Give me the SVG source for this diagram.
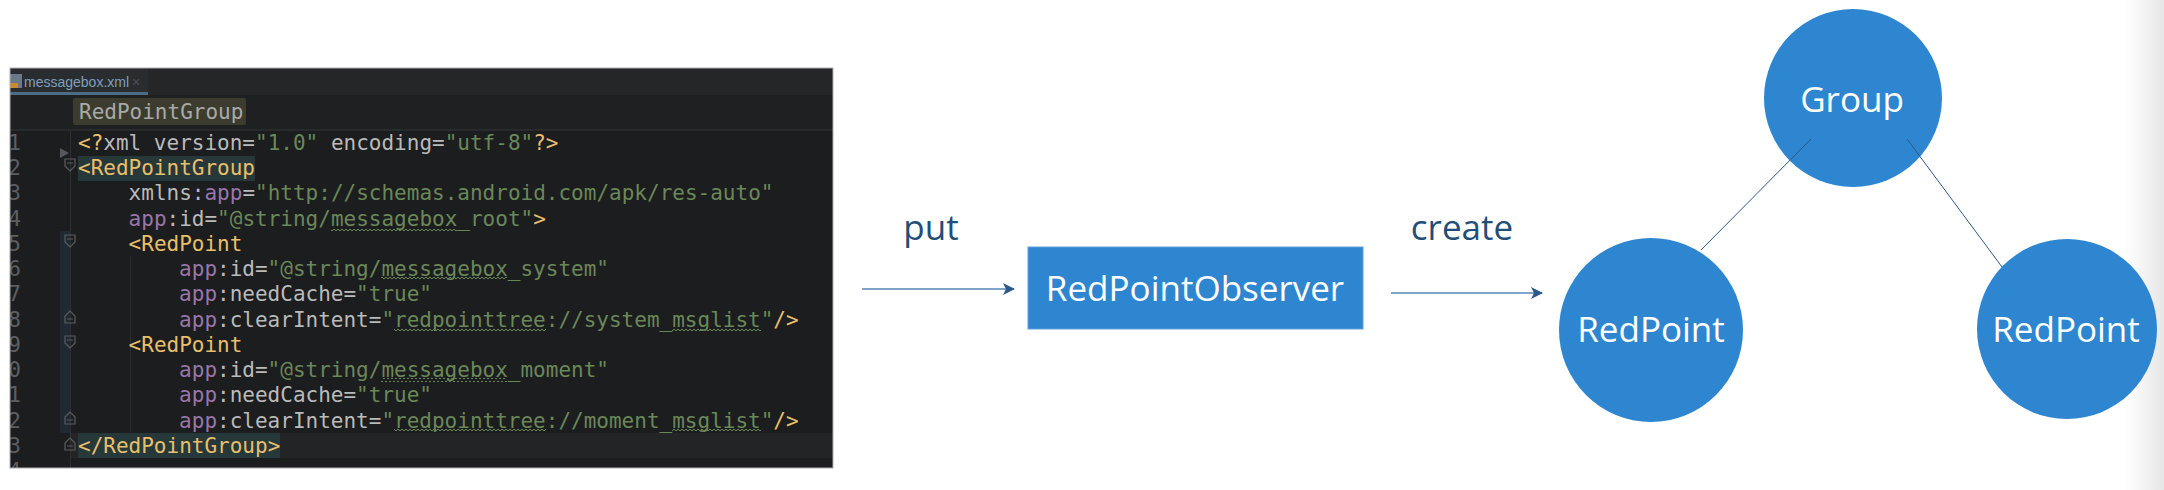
<svg xmlns="http://www.w3.org/2000/svg" width="2164" height="490" viewBox="0 0 2164 490">
<style>
.code{font-family:"DejaVu Sans Mono","Liberation Mono",monospace;font-size:21px;fill:#bababa}
.ln{font-family:"DejaVu Sans Mono","Liberation Mono",monospace;font-size:21px;fill:#5c5f62;text-anchor:end}
.tg{fill:#e8bf6a}.ns{fill:#9876aa}.st{fill:#6a8759}
.lbl{font-family:"Open Sans","Noto Sans",sans-serif;font-size:35px;fill:#1f4e79;text-anchor:middle}
.nt{font-family:"Open Sans","Noto Sans",sans-serif;font-size:35px;fill:#ffffff;text-anchor:middle}
.node{fill:#2e86d1}
.conn{stroke:#7ea4c8;stroke-width:2;fill:none}
.edge{stroke:#2b5a8a;stroke-width:1;fill:none}
.fold{fill:none;stroke:#5a5d60;stroke-width:1.2}
</style>
<defs>
<clipPath id="panel"><rect x="10" y="68" width="823" height="400"/></clipPath>
<pattern id="wave" x="0" y="0" width="4" height="4" patternUnits="userSpaceOnUse">
<path d="M0,3 L2,1 L4,3" fill="none" stroke="#6a8759" stroke-width="1"/>
</pattern>
<marker id="arr" viewBox="0 0 12 12" refX="11" refY="6" markerWidth="12" markerHeight="12" markerUnits="userSpaceOnUse" orient="auto">
<path d="M0,0 L12,6 L0,12 L3,6 Z" fill="#2b5a8a"/>
</marker>
<linearGradient id="shade" x1="0" y1="0" x2="1" y2="0">
<stop offset="0" stop-color="#ffffff"/>
<stop offset="1" stop-color="#e6e6e6"/>
</linearGradient>
</defs>
<rect width="2164" height="490" fill="#ffffff"/>
<rect x="2125" y="0" width="39" height="490" fill="url(#shade)"/>

<g id="code-panel" clip-path="url(#panel)">
<rect x="10" y="68" width="823" height="400" fill="#1c1d1e"/>
<rect x="10" y="68" width="823" height="27" fill="#252628"/>
<rect x="10" y="68" width="138" height="27" fill="#2a2d30"/>
<rect x="10" y="92" width="138" height="3" fill="#4b6b87"/>
<rect x="10" y="74" width="12" height="14" fill="#6a7a8a"/>
<rect x="10" y="83" width="8" height="5" fill="#c98a2a"/>
<text x="24" y="87" font-family="'Liberation Sans','Noto Sans',sans-serif" font-size="14" fill="#7f9fbf">messagebox.xml</text>
<text x="132" y="87" font-family="'Liberation Sans',sans-serif" font-size="14" fill="#4a5058">×</text>
<rect x="10" y="95" width="823" height="35" fill="#1f2021"/>
<rect x="73" y="98" width="173" height="27" rx="2" fill="#3c3c2e"/>
<text x="79" y="119" class="code" fill="#a9a9a9" style="fill:#a9a9a9">RedPointGroup</text>
<line x1="10" y1="130" x2="833" y2="130" stroke="#353739" stroke-width="1"/>
<rect x="70" y="433" width="763" height="25" fill="#232425"/>
<rect x="60" y="231" width="10" height="202" fill="#1f2a34"/>
<line x1="70.5" y1="131" x2="70.5" y2="468" stroke="#2e3032" stroke-width="1"/>
<line x1="130.5" y1="256" x2="130.5" y2="432" stroke="#2a2c2e" stroke-width="1"/>
<rect x="78" y="156" width="177" height="25" fill="#27383a"/>
<rect x="78" y="433" width="202" height="25" fill="#27383a"/>
<path d="M60,148 L69,153 L60,158 Z" fill="#55595e"/>
<g class="fold">
<path d="M65,159 h10 v7 l-5,5 l-5,-5 Z M67,163 h6"/>
<path d="M65,235 h10 v7 l-5,5 l-5,-5 Z M67,239 h6"/>
<path d="M65,323 h10 v-7 l-5,-5 l-5,5 Z M67,319 h6"/>
<path d="M65,336 h10 v7 l-5,5 l-5,-5 Z M67,340 h6"/>
<path d="M65,424 h10 v-7 l-5,-5 l-5,5 Z M67,420 h6"/>
<path d="M65,450 h10 v-7 l-5,-5 l-5,5 Z M67,446 h6"/>
</g>
<g>
<text class="ln" x="21" y="150">1</text>
<text class="ln" x="21" y="175">2</text>
<text class="ln" x="21" y="200">3</text>
<text class="ln" x="21" y="226">4</text>
<text class="ln" x="21" y="251">5</text>
<text class="ln" x="21" y="276">6</text>
<text class="ln" x="21" y="301">7</text>
<text class="ln" x="21" y="327">8</text>
<text class="ln" x="21" y="352">9</text>
<text class="ln" x="21" y="377">10</text>
<text class="ln" x="21" y="402">11</text>
<text class="ln" x="21" y="428">12</text>
<text class="ln" x="21" y="453">13</text>
<text class="ln" x="21" y="478">14</text>
</g>
<g fill="url(#wave)">
<rect x="331" y="227" width="126" height="4"/>
<rect x="381" y="277" width="126" height="4"/>
<rect x="394" y="328" width="152" height="4"/>
<rect x="672" y="328" width="89" height="4"/>
<rect x="381" y="378" width="126" height="4"/>
<rect x="394" y="429" width="152" height="4"/>
<rect x="672" y="429" width="89" height="4"/>
</g>
<text class="code" x="78" y="150"><tspan class="tg">&lt;?</tspan>xml version=<tspan class="st">"1.0"</tspan> encoding=<tspan class="st">"utf-8"</tspan><tspan class="tg">?&gt;</tspan></text>
<text class="code" x="78" y="175"><tspan class="tg">&lt;RedPointGroup</tspan></text>
<text class="code" x="128.6" y="200">xmlns:<tspan class="ns">app</tspan>=<tspan class="st">"http://schemas.android.com/apk/res-auto"</tspan></text>
<text class="code" x="128.6" y="226"><tspan class="ns">app</tspan>:id=<tspan class="st">"@string/messagebox_root"</tspan><tspan class="tg">&gt;</tspan></text>
<text class="code" x="128.6" y="251"><tspan class="tg">&lt;RedPoint</tspan></text>
<text class="code" x="179.1" y="276"><tspan class="ns">app</tspan>:id=<tspan class="st">"@string/messagebox_system"</tspan></text>
<text class="code" x="179.1" y="301"><tspan class="ns">app</tspan>:needCache=<tspan class="st">"true"</tspan></text>
<text class="code" x="179.1" y="327"><tspan class="ns">app</tspan>:clearIntent=<tspan class="st">"redpointtree://system_msglist"</tspan><tspan class="tg">/&gt;</tspan></text>
<text class="code" x="128.6" y="352"><tspan class="tg">&lt;RedPoint</tspan></text>
<text class="code" x="179.1" y="377"><tspan class="ns">app</tspan>:id=<tspan class="st">"@string/messagebox_moment"</tspan></text>
<text class="code" x="179.1" y="402"><tspan class="ns">app</tspan>:needCache=<tspan class="st">"true"</tspan></text>
<text class="code" x="179.1" y="428"><tspan class="ns">app</tspan>:clearIntent=<tspan class="st">"redpointtree://moment_msglist"</tspan><tspan class="tg">/&gt;</tspan></text>
<text class="code" x="78" y="453"><tspan class="tg">&lt;/RedPointGroup&gt;</tspan></text>
</g>
<rect x="10" y="68" width="823" height="400" fill="none" stroke="#b0b0b0" stroke-width="1"/>

<g id="connectors">
<line class="conn" x1="862" y1="289" x2="1014" y2="289" marker-end="url(#arr)"/>
<line class="conn" x1="1391" y1="293" x2="1542" y2="293" marker-end="url(#arr)"/>
<text class="lbl" x="931" y="240">put</text>
<text class="lbl" x="1462" y="240">create</text>
</g>

<g id="observer">
<rect class="node" x="1028" y="247" width="335" height="82" stroke="#5aa0dd" stroke-width="1"/>
<text class="nt" x="1195" y="301">RedPointObserver</text>
</g>
<g id="group">
<circle class="node" cx="1853" cy="98" r="89"/>
<text class="nt" x="1852" y="112">Group</text>
</g>
<g id="redpoint-left">
<circle class="node" cx="1651" cy="330" r="92"/>
<text class="nt" x="1651" y="342">RedPoint</text>
</g>
<g id="redpoint-right">
<circle class="node" cx="2067" cy="329" r="90"/>
<text class="nt" x="2066" y="342">RedPoint</text>
</g>
<g id="tree-edges">
<line class="edge" x1="1811" y1="139" x2="1701" y2="250"/>
<line class="edge" x1="1907" y1="139" x2="2002" y2="267"/>
</g>
</svg>
